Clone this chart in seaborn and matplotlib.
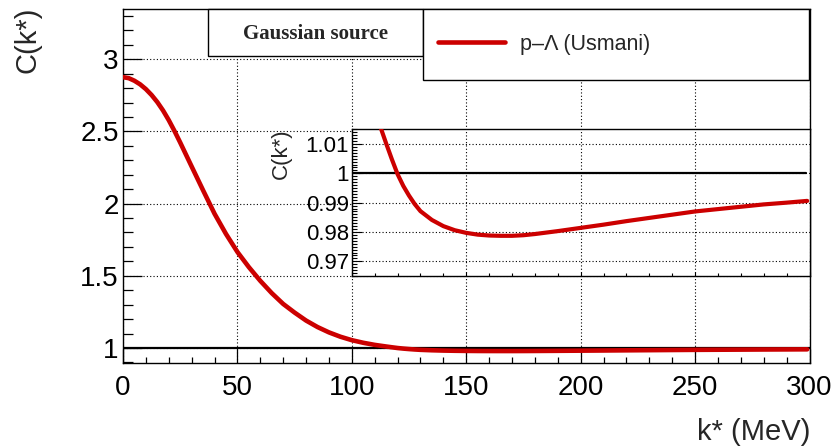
"""
Funcao de correlacao p-Lambda (Usmani) para fonte gaussiana, com zoom na regiao k* > 100 MeV.
Gera: out.png
"""

import matplotlib
matplotlib.use("Agg")
import matplotlib.pyplot as plt
import numpy as np
import pandas as pd
import seaborn as sns
from matplotlib.lines import Line2D
from matplotlib.patches import Rectangle
from matplotlib.ticker import MultipleLocator

# --- dados ---
k_star = [0, 2.5, 5, 7.5, 10, 12.5, 15, 17.5, 20, 22.5, 25, 27.5, 30, 35, 40, 45,
          50, 55, 60, 65, 70, 75, 80, 85, 90, 95, 100, 105, 110, 112.5, 115, 117.5,
          120, 122.5, 125, 127.5, 130, 135, 140, 145, 150, 155, 160, 165, 170, 175,
          180, 190, 200, 210, 220, 230, 240, 250, 260, 270, 280, 290, 299]
c_k = [2.876, 2.869, 2.851, 2.826, 2.793, 2.752, 2.703, 2.645, 2.578, 2.503,
       2.423, 2.340, 2.257, 2.092, 1.930, 1.790, 1.665, 1.560, 1.465, 1.380,
       1.305, 1.245, 1.190, 1.145, 1.108, 1.078, 1.054, 1.036, 1.0215, 1.0158,
       1.0102, 1.0048, 0.9997, 0.9957, 0.9924, 0.9895, 0.9871, 0.9841, 0.9820,
       0.9806, 0.9797, 0.9791, 0.9788, 0.9787, 0.9787, 0.9789, 0.9793, 0.9803,
       0.9814, 0.9825, 0.9837, 0.9848, 0.9859, 0.9870, 0.9878, 0.9886, 0.9894,
       0.9900, 0.9906]

x_ticks = [0, 50, 100, 150, 200, 250, 300]
x_ticklabels = ["0", "50", "100", "150", "200", "250", "300"]
y_ticks = [1, 1.5, 2, 2.5, 3]
y_ticklabels = ["1", "1.5", "2", "2.5", "3"]
inset_x_ticks = [100, 150, 200, 250, 300]
inset_y_ticks = [0.97, 0.98, 0.99, 1.0, 1.01]
inset_y_ticklabels = ["0.97", "0.98", "0.99", "1", "1.01"]

legend_label = "p\u2013\u039b (Usmani)"
box_title = "Gaussian source"

RED = "#cc0000"
W, H = 838, 448

sns.set_style("white")
plt.rcParams["font.family"] = ["Liberation Sans", "DejaVu Sans"]

df = pd.DataFrame({"k": k_star, "C": c_k})


def fx(px):
    return px / W


def fy(py):
    return 1 - py / H


fig = plt.figure(figsize=(W / 100, H / 100), dpi=100)

# --- painel principal ---
ax = fig.add_axes([fx(123), fy(362.7), fx(809.5) - fx(123), fy(9.3) - fy(362.7)])
ax.axhline(1.0, color="black", lw=1.6, zorder=2)
sns.lineplot(data=df, x="k", y="C", ax=ax, color=RED, lw=3.3, zorder=3)
ax.set_xlim(0, 300)
ax.set_ylim(0.898, 3.346)
ax.set_xticks(x_ticks)
ax.set_xticklabels(x_ticklabels)
ax.set_yticks(y_ticks)
ax.set_yticklabels(y_ticklabels)
ax.xaxis.set_minor_locator(MultipleLocator(10))
ax.yaxis.set_minor_locator(MultipleLocator(0.1))
ax.tick_params(axis="both", which="both", direction="in", colors="black",
               width=0.9, labelsize=20, top=False, right=False, bottom=True, left=True)
ax.tick_params(axis="x", which="major", length=10, pad=9)
ax.tick_params(axis="x", which="minor", length=4)
ax.tick_params(axis="y", which="major", length=13.5, pad=3)
ax.tick_params(axis="y", which="minor", length=7)
ax.grid(True, which="major", linestyle=(0, (1, 2)), color="black", lw=0.8)
ax.set_xlabel("")
ax.set_ylabel("")
for sp in ax.spines.values():
    sp.set_color("black")
    sp.set_linewidth(1.0)

fig.text(fx(27), fy(7), "C(k*)", rotation=90, ha="center", va="top", fontsize=21)
fig.text(fx(810), fy(431.7), "k* (MeV)", ha="right", va="center", fontsize=21)

# --- inset ---
axi = fig.add_axes([fx(351.8), fy(276), fx(809.5) - fx(351.8), fy(129.3) - fy(276)])
axi.set_facecolor("white")
axi.axhline(1.0, xmax=0.993, color="black", lw=1.6, zorder=2)
sns.lineplot(data=df, x="k", y="C", ax=axi, color=RED, lw=3.0, zorder=3)
axi.set_xlim(100, 300)
axi.set_ylim(0.965, 1.015)
axi.set_xticks(inset_x_ticks)
axi.set_xticklabels([])
axi.set_yticks(inset_y_ticks)
axi.set_yticklabels(inset_y_ticklabels)
axi.xaxis.set_minor_locator(MultipleLocator(10))
axi.yaxis.set_minor_locator(MultipleLocator(0.001))
axi.tick_params(axis="both", which="both", direction="in", colors="black",
                width=0.8, labelsize=16, top=False, right=False, bottom=True, left=True)
axi.tick_params(axis="x", which="major", length=3)
axi.tick_params(axis="x", which="minor", length=2.5)
axi.tick_params(axis="y", which="major", length=7, pad=2)
axi.tick_params(axis="y", which="minor", length=3.5)
axi.grid(True, which="major", linestyle=(0, (1, 2)), color="black", lw=0.8)
axi.set_xlabel("")
axi.set_ylabel("")
for sp in axi.spines.values():
    sp.set_color("black")
    sp.set_linewidth(1.0)

fig.text(fx(281.5), fy(128), "C(k*)", rotation=90, ha="center", va="top", fontsize=16)

# --- caixas de legenda ---
box1 = Rectangle((fx(208.3), fy(56)), fx(422.7) - fx(208.3), fy(9.3) - fy(56),
                 transform=fig.transFigure, facecolor="white", edgecolor="black",
                 lw=1.0, zorder=5)
box2 = Rectangle((fx(422.7), fy(80)), fx(809.3) - fx(422.7), fy(9.3) - fy(80),
                 transform=fig.transFigure, facecolor="white", edgecolor="black",
                 lw=1.0, zorder=5)
fig.add_artist(box1)
fig.add_artist(box2)
t = fig.text(fx(315.5), fy(34), box_title, ha="center", va="center",
             fontsize=15, fontweight="bold", family=["Liberation Serif", "DejaVu Serif"])
t.set_zorder(6)

leg = fig.legend(handles=[Line2D([], [], color=RED, lw=3.3)], labels=[legend_label],
                 loc="center left", bbox_to_anchor=(fx(438), fy(44.3)),
                 bbox_transform=fig.transFigure, frameon=False, fontsize=15.5,
                 handlelength=3.1, handletextpad=0.7, borderpad=0, borderaxespad=0)
leg.set_zorder(6)

fig.savefig("out.png", dpi=100)
plt.close(fig)
